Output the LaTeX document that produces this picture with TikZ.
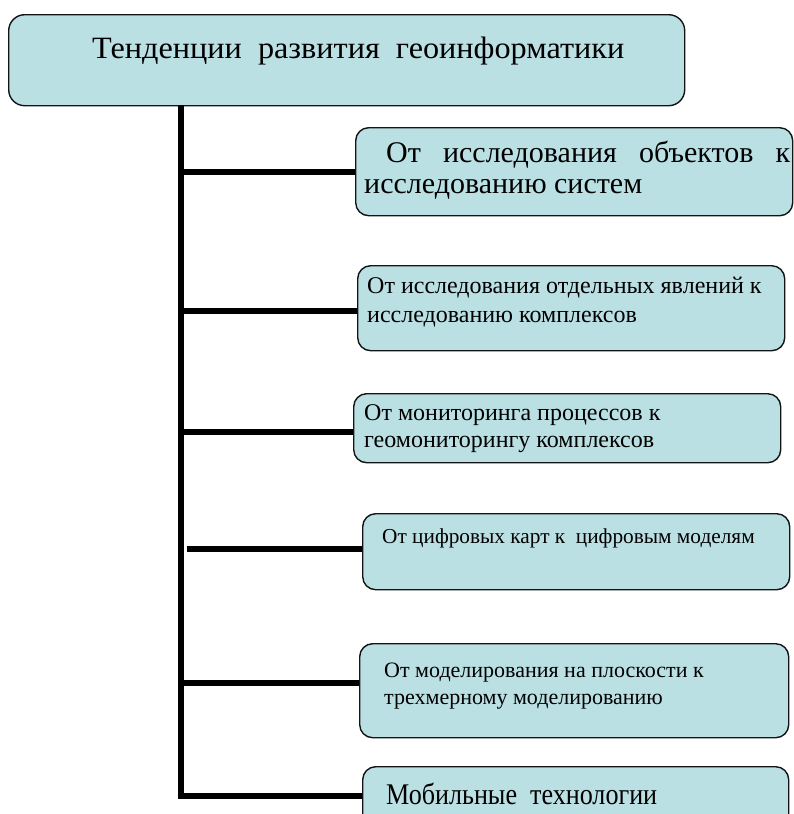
\documentclass[tikz,border=0pt]{standalone}
\usepackage{fontspec}
\setmainfont{Liberation Serif}
\newfontfamily\titlefont[FakeStretch=1.04]{Liberation Serif}
\newfontfamily\mobfont[FakeStretch=0.87]{Liberation Serif}
\definecolor{boxfill}{RGB}{186,224,228}
\definecolor{boxline}{RGB}{20,20,20}
\tikzset{
  box/.style={draw=boxline, line width=1.4pt, fill=boxfill, rounded corners=13pt, inner sep=0pt, anchor=north west},
  bar/.style={line width=6pt, black},
  lbl/.style={inner sep=0pt, anchor=base west, text=black}
}
\begin{document}
\begin{tikzpicture}[x=1pt,y=-1pt]
\useasboundingbox (0,0) rectangle (793,814);
% boxes
\node[box, rounded corners=16pt, minimum width=676pt, minimum height=91pt] (t) at (8,14) {};
\node[box, minimum width=437pt, minimum height=88pt] (b1) at (355,127) {};
\node[box, minimum width=427pt, minimum height=85pt] (b2) at (357,265) {};
\node[box, minimum width=427pt, minimum height=69pt] (b3) at (353,393) {};
\node[box, minimum width=427pt, minimum height=76pt] (b4) at (362,513) {};
\node[box, minimum width=429pt, minimum height=94pt] (b5) at (359,643) {};
\node[box, minimum width=426pt, minimum height=80pt] (b6) at (362,766) {};
% trunk and branches
\coordinate (top) at (181,105);
\coordinate (bot) at (181,799);
\coordinate (j1) at (181,172);
\coordinate (j2) at (181,311);
\coordinate (j3) at (181,432);
\coordinate (j4) at (187,549);
\coordinate (j5) at (181,683);
\coordinate (j6) at (181,796);
\draw[bar] (top) -- (bot);
\draw[bar] (j1) -- (j1 -| b1.west);
\draw[bar] (j2) -- (j2 -| b2.west);
\draw[bar] (j3) -- (j3 -| b3.west);
\draw[bar] (j4) -- (j4 -| b4.west);
\draw[bar] (j5) -- (j5 -| b5.west);
\draw[bar] (j6) -- (j6 -| b6.west);
% texts
\node[lbl] (t0) at (92,58) {\titlefont\fontsize{31}{36}\selectfont Тенденции\ \ развития\ \ геоинформатики};
\node[lbl] (t1a) at (386,162) {\fontsize{30}{34}\selectfont\hbox to 404pt{От\hfill исследования\hfill объектов\hfill к}};
\node[lbl] (t1b) at (364,193) {\fontsize{30}{34}\selectfont исследованию систем};
\node[lbl] (t2a) at (367,293) {\fontsize{24}{28}\selectfont От исследования отдельных явлений к};
\node[lbl] (t2b) at (367,322) {\fontsize{24}{28}\selectfont исследованию комплексов};
\node[lbl] (t3a) at (364,420) {\fontsize{24}{28}\selectfont От мониторинга процессов к};
\node[lbl] (t3b) at (364,447) {\fontsize{24}{28}\selectfont геомониторингу комплексов};
\node[lbl] (t4) at (382,543) {\fontsize{21.3}{25}\selectfont От цифровых карт к\ \ цифровым моделям};
\node[lbl] (t5a) at (384,677) {\fontsize{22}{26}\selectfont От моделирования на плоскости к};
\node[lbl] (t5b) at (384,704) {\fontsize{22}{26}\selectfont трехмерному моделированию};
\node[lbl] (t6) at (386,804) {\mobfont\fontsize{30}{34}\selectfont Мобильные\ \ технологии};
\end{tikzpicture}
\end{document}
